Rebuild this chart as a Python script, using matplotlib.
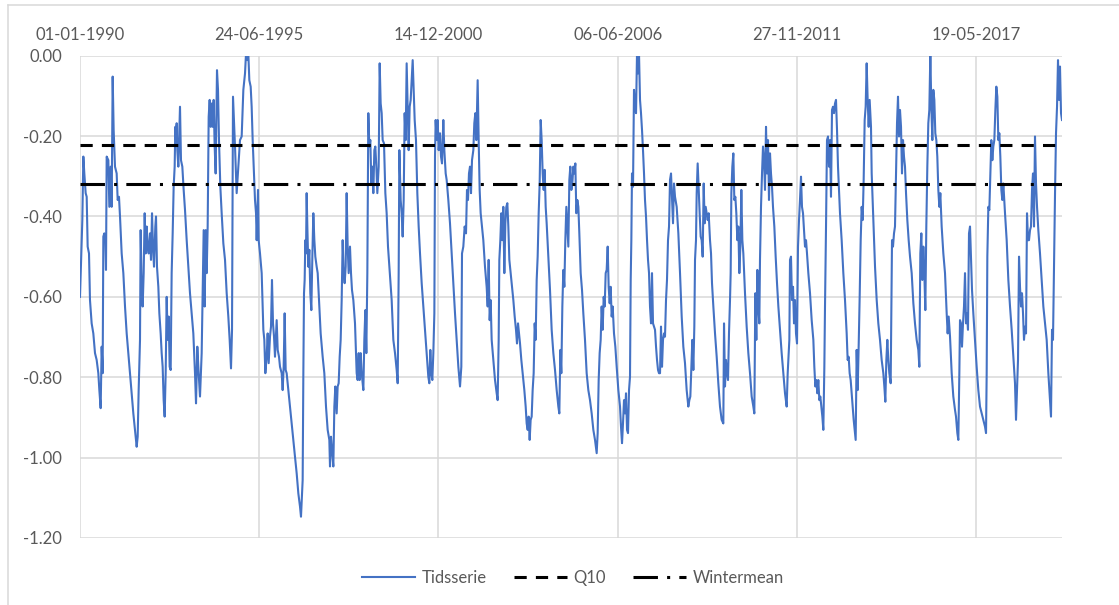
import numpy as np
import pandas as pd
import matplotlib
matplotlib.use("Agg")
import matplotlib.pyplot as plt
from matplotlib.lines import Line2D

plt.rcParams['font.family'] = ['Lato', 'DejaVu Sans']

# ---------------- data ----------------
start_date = "1990-01-01"

# time in years since 01-01-1990, and groundwater level
years_1990 = [0.000, 0.071, 0.102, 0.132, 0.173, 0.204, 0.234, 0.275, 0.305, 0.356,
              0.407, 0.458, 0.509, 0.560, 0.591, 0.631, 0.662, 0.692, 0.713, 0.743,
              0.774, 0.794, 0.815, 0.866, 0.896, 0.937, 0.967, 0.998, 1.028, 1.069,
              1.120, 1.151, 1.191, 1.222, 1.273, 1.324, 1.375, 1.426, 1.477, 1.527,
              1.578, 1.629, 1.680, 1.731, 1.762, 1.792, 1.833, 1.853, 1.884, 1.914,
              1.945, 1.976, 2.006, 2.037, 2.067, 2.098, 2.138, 2.169, 2.200, 2.230,
              2.261, 2.301, 2.322, 2.352, 2.393, 2.424, 2.464, 2.495, 2.525, 2.556,
              2.586, 2.617, 2.648, 2.678, 2.709, 2.739, 2.770, 2.800, 2.831, 2.861,
              2.892, 2.912, 2.933, 2.953, 2.973, 3.004, 3.055, 3.085, 3.126, 3.167,
              3.208, 3.259, 3.309, 3.360, 3.411, 3.462, 3.513, 3.544, 3.584, 3.625,
              3.666, 3.717, 3.747, 3.778, 3.808, 3.839, 3.870, 3.900, 3.931, 3.961,
              3.992, 4.022, 4.053, 4.083, 4.114, 4.144, 4.185, 4.216, 4.246, 4.287,
              4.328, 4.379, 4.430, 4.481, 4.531, 4.572, 4.613, 4.644, 4.674]
level_1990 = [-0.600, -0.409, -0.251, -0.293, -0.342, -0.351, -0.475, -0.492, -0.608, -0.666,
              -0.691, -0.740, -0.757, -0.790, -0.832, -0.877, -0.724, -0.790, -0.450, -0.442,
              -0.459, -0.533, -0.251, -0.260, -0.376, -0.276, -0.376, -0.052, -0.185, -0.276,
              -0.293, -0.359, -0.351, -0.400, -0.492, -0.541, -0.624, -0.691, -0.740, -0.790,
              -0.840, -0.890, -0.931, -0.973, -0.948, -0.832, -0.707, -0.434, -0.575, -0.624,
              -0.541, -0.392, -0.492, -0.425, -0.475, -0.492, -0.442, -0.508, -0.392, -0.475,
              -0.525, -0.425, -0.400, -0.525, -0.575, -0.641, -0.691, -0.740, -0.774, -0.857,
              -0.898, -0.790, -0.600, -0.707, -0.649, -0.774, -0.782, -0.541, -0.442, -0.326,
              -0.276, -0.177, -0.210, -0.168, -0.235, -0.276, -0.127, -0.260, -0.276, -0.334,
              -0.384, -0.459, -0.525, -0.591, -0.641, -0.691, -0.790, -0.865, -0.724, -0.790,
              -0.848, -0.740, -0.591, -0.434, -0.624, -0.434, -0.541, -0.425, -0.152, -0.110,
              -0.177, -0.119, -0.177, -0.110, -0.226, -0.293, -0.036, -0.085, -0.210, -0.326,
              -0.392, -0.467, -0.508, -0.591, -0.649, -0.707, -0.778, -0.682, -0.102]

years_1995 = [4.735, 4.786, 4.837, 4.888, 4.939, 4.990, 5.041, 5.071, 5.112, 5.142,
              5.173, 5.214, 5.244, 5.275, 5.316, 5.346, 5.377, 5.397, 5.438, 5.458,
              5.499, 5.550, 5.601, 5.631, 5.662, 5.702, 5.733, 5.764, 5.804, 5.835,
              5.865, 5.896, 5.927, 5.957, 6.008, 6.039, 6.079, 6.110, 6.161, 6.191,
              6.222, 6.252, 6.283, 6.313, 6.364, 6.415, 6.466, 6.517, 6.568, 6.619,
              6.670, 6.721, 6.751, 6.782, 6.802, 6.823, 6.843, 6.863, 6.884, 6.904,
              6.924, 6.945, 6.975, 7.006, 7.036, 7.067, 7.098, 7.128, 7.159, 7.189,
              7.230, 7.261, 7.301, 7.352, 7.413, 7.464, 7.515, 7.566, 7.617, 7.637,
              7.668, 7.698, 7.739, 7.770, 7.800, 7.841, 7.871, 7.902, 7.933, 7.963,
              7.994, 8.024, 8.055, 8.085, 8.116, 8.146, 8.177, 8.207, 8.248, 8.279,
              8.309, 8.350, 8.401, 8.452, 8.482, 8.513, 8.543, 8.574, 8.605, 8.656,
              8.686, 8.717, 8.747, 8.778, 8.808, 8.839, 8.869, 8.900, 8.930, 8.961,
              8.992, 9.022, 9.053, 9.083, 9.124, 9.155, 9.185, 9.216, 9.246, 9.287,
              9.328, 9.368, 9.409, 9.450]
level_1995 = [-0.226, -0.342, -0.276, -0.210, -0.201, -0.085, -0.044, 0.005, -0.011, 0.005,
              -0.061, -0.077, -0.127, -0.210, -0.293, -0.359, -0.392, -0.459, -0.334, -0.459,
              -0.492, -0.541, -0.682, -0.707, -0.790, -0.749, -0.691, -0.765, -0.699, -0.674,
              -0.558, -0.666, -0.699, -0.749, -0.658, -0.732, -0.749, -0.774, -0.790, -0.832,
              -0.774, -0.641, -0.782, -0.790, -0.832, -0.873, -0.915, -0.956, -0.998, -1.039,
              -1.089, -1.122, -1.147, -1.089, -1.056, -0.790, -0.591, -0.558, -0.459, -0.492,
              -0.342, -0.425, -0.525, -0.483, -0.591, -0.633, -0.500, -0.392, -0.459, -0.500,
              -0.525, -0.541, -0.608, -0.691, -0.749, -0.790, -0.873, -0.931, -0.956, -1.022,
              -0.948, -0.981, -1.022, -0.873, -0.823, -0.890, -0.823, -0.815, -0.749, -0.707,
              -0.608, -0.459, -0.541, -0.566, -0.525, -0.342, -0.475, -0.541, -0.475, -0.541,
              -0.583, -0.608, -0.666, -0.790, -0.807, -0.740, -0.807, -0.740, -0.790, -0.832,
              -0.707, -0.633, -0.740, -0.541, -0.143, -0.226, -0.210, -0.318, -0.276, -0.342,
              -0.235, -0.226, -0.276, -0.342, -0.276, -0.019, -0.119, -0.143, -0.210, -0.218,
              -0.342, -0.392, -0.475, -0.525]

years_2000 = [9.521, 9.572, 9.623, 9.674, 9.705, 9.735, 9.756, 9.796, 9.827, 9.857,
              9.888, 9.918, 9.949, 9.979, 10.010, 10.040, 10.071, 10.102, 10.132, 10.163,
              10.193, 10.224, 10.264, 10.305, 10.346, 10.387, 10.438, 10.488, 10.539, 10.590,
              10.641, 10.672, 10.702, 10.733, 10.763, 10.794, 10.825, 10.845, 10.865, 10.896,
              10.926, 10.957, 10.998, 11.028, 11.059, 11.099, 11.130, 11.171, 11.201, 11.252,
              11.303, 11.354, 11.405, 11.456, 11.507, 11.558, 11.609, 11.649, 11.670, 11.710,
              11.751, 11.792, 11.822, 11.853, 11.883, 11.914, 11.945, 11.975, 12.016, 12.046,
              12.077, 12.108, 12.148, 12.179, 12.209, 12.240, 12.281, 12.321, 12.372, 12.423,
              12.454, 12.484, 12.515, 12.545, 12.576, 12.627, 12.678, 12.729, 12.759, 12.790,
              12.810, 12.841, 12.871, 12.902, 12.932, 12.963, 12.994, 13.024, 13.055, 13.085,
              13.116, 13.156, 13.197, 13.238, 13.279, 13.319, 13.350, 13.381, 13.411, 13.442,
              13.482, 13.523, 13.574, 13.615, 13.645, 13.676, 13.706, 13.737, 13.767, 13.798,
              13.828, 13.859, 13.890, 13.920, 13.951, 13.981, 14.012, 14.042, 14.073, 14.103,
              14.134, 14.165, 14.195, 14.226, 14.256, 14.307, 14.358]
level_2000 = [-0.608, -0.707, -0.740, -0.782, -0.815, -0.541, -0.235, -0.359, -0.392, -0.450,
              -0.359, -0.143, -0.210, -0.019, -0.127, -0.235, -0.127, -0.110, -0.061, -0.011,
              -0.085, -0.160, -0.210, -0.342, -0.425, -0.492, -0.566, -0.624, -0.682, -0.740,
              -0.799, -0.815, -0.732, -0.790, -0.807, -0.740, -0.641, -0.251, -0.160, -0.210,
              -0.160, -0.235, -0.193, -0.251, -0.268, -0.160, -0.235, -0.293, -0.309, -0.359,
              -0.417, -0.492, -0.566, -0.641, -0.707, -0.774, -0.823, -0.774, -0.492, -0.475,
              -0.425, -0.442, -0.334, -0.359, -0.293, -0.276, -0.342, -0.260, -0.235, -0.168,
              -0.143, -0.210, -0.061, -0.210, -0.334, -0.392, -0.425, -0.459, -0.525, -0.575,
              -0.624, -0.508, -0.658, -0.608, -0.707, -0.757, -0.807, -0.840, -0.857, -0.707,
              -0.508, -0.459, -0.392, -0.459, -0.376, -0.541, -0.417, -0.376, -0.367, -0.425,
              -0.508, -0.541, -0.575, -0.608, -0.649, -0.682, -0.716, -0.666, -0.691, -0.716,
              -0.757, -0.790, -0.832, -0.873, -0.915, -0.931, -0.898, -0.956, -0.906, -0.898,
              -0.832, -0.790, -0.666, -0.707, -0.558, -0.500, -0.392, -0.318, -0.160, -0.210,
              -0.293, -0.334, -0.284, -0.376, -0.417, -0.500, -0.583]

years_2004 = [14.409, 14.460, 14.511, 14.562, 14.613, 14.643, 14.674, 14.704, 14.735, 14.765,
              14.796, 14.826, 14.857, 14.888, 14.918, 14.949, 14.979, 15.010, 15.040, 15.071,
              15.101, 15.132, 15.162, 15.193, 15.224, 15.254, 15.295, 15.336, 15.376, 15.427,
              15.478, 15.529, 15.580, 15.631, 15.682, 15.733, 15.784, 15.814, 15.845, 15.875,
              15.906, 15.936, 15.967, 15.998, 16.028, 16.059, 16.089, 16.120, 16.150, 16.181,
              16.211, 16.242, 16.273, 16.313, 16.354, 16.395, 16.446, 16.497, 16.527, 16.558,
              16.588, 16.619, 16.650, 16.680, 16.711, 16.741, 16.772, 16.802, 16.823, 16.843,
              16.863, 16.894, 16.924, 16.955, 16.986, 17.016, 17.047, 17.077, 17.108, 17.138,
              17.169, 17.199, 17.230, 17.260, 17.291, 17.322, 17.352, 17.383, 17.413, 17.444,
              17.474, 17.505, 17.535, 17.566, 17.597, 17.627, 17.658, 17.688, 17.719, 17.749,
              17.780, 17.810, 17.841, 17.871, 17.902, 17.932, 17.963, 17.994, 18.024, 18.055,
              18.085, 18.116, 18.146, 18.177, 18.228, 18.279, 18.330, 18.381, 18.431, 18.482,
              18.533, 18.584, 18.615, 18.645, 18.676, 18.706, 18.737, 18.767, 18.788, 18.818,
              18.839, 18.869, 18.900, 18.930, 18.961, 18.991, 19.022, 19.053, 19.083, 19.114,
              19.144, 19.175, 19.205, 19.246]
level_2004 = [-0.682, -0.740, -0.782, -0.832, -0.873, -0.890, -0.732, -0.790, -0.624, -0.533,
              -0.575, -0.459, -0.376, -0.425, -0.475, -0.309, -0.276, -0.334, -0.318, -0.276,
              -0.293, -0.268, -0.392, -0.359, -0.376, -0.442, -0.541, -0.583, -0.641, -0.707,
              -0.790, -0.832, -0.857, -0.890, -0.931, -0.956, -0.989, -0.939, -0.807, -0.740,
              -0.707, -0.624, -0.682, -0.600, -0.624, -0.541, -0.533, -0.475, -0.575, -0.616,
              -0.575, -0.649, -0.624, -0.691, -0.724, -0.774, -0.832, -0.873, -0.923, -0.964,
              -0.915, -0.857, -0.890, -0.840, -0.931, -0.939, -0.832, -0.799, -0.558, -0.459,
              -0.293, -0.326, -0.085, -0.127, -0.143, 0.005, -0.044, 0.005, -0.110, -0.143,
              -0.185, -0.235, -0.293, -0.359, -0.400, -0.459, -0.508, -0.541, -0.624, -0.666,
              -0.541, -0.666, -0.674, -0.682, -0.724, -0.757, -0.782, -0.790, -0.790, -0.674,
              -0.774, -0.707, -0.691, -0.699, -0.608, -0.558, -0.459, -0.425, -0.309, -0.293,
              -0.351, -0.417, -0.318, -0.351, -0.376, -0.442, -0.541, -0.649, -0.724, -0.765,
              -0.832, -0.873, -0.857, -0.848, -0.774, -0.707, -0.782, -0.674, -0.508, -0.459,
              -0.342, -0.268, -0.334, -0.392, -0.450, -0.459, -0.500, -0.318, -0.417, -0.376,
              -0.392, -0.409, -0.392, -0.459]

years_2009 = [19.277, 19.307, 19.348, 19.399, 19.450, 19.500, 19.551, 19.602, 19.653, 19.674,
              19.704, 19.735, 19.765, 19.796, 19.826, 19.857, 19.877, 19.898, 19.928, 19.959,
              19.989, 20.020, 20.050, 20.081, 20.111, 20.142, 20.173, 20.203, 20.234, 20.264,
              20.315, 20.366, 20.417, 20.468, 20.519, 20.570, 20.600, 20.631, 20.661, 20.692,
              20.722, 20.753, 20.773, 20.804, 20.835, 20.865, 20.896, 20.926, 20.957, 20.987,
              21.018, 21.048, 21.079, 21.109, 21.140, 21.170, 21.211, 21.252, 21.293, 21.334,
              21.384, 21.435, 21.486, 21.537, 21.588, 21.619, 21.649, 21.670, 21.690, 21.720,
              21.751, 21.782, 21.812, 21.843, 21.873, 21.904, 21.934, 21.965, 21.995, 22.026,
              22.056, 22.087, 22.118, 22.148, 22.179, 22.209, 22.250, 22.301, 22.352, 22.403,
              22.433, 22.464, 22.494, 22.525, 22.555, 22.586, 22.616, 22.647, 22.678, 22.708,
              22.739, 22.759, 22.790, 22.820, 22.851, 22.881, 22.912, 22.942, 22.973, 23.003,
              23.034, 23.064, 23.095, 23.126, 23.156, 23.187, 23.217, 23.268, 23.319, 23.370,
              23.421, 23.451, 23.482, 23.512, 23.543, 23.574, 23.604, 23.635, 23.665, 23.696,
              23.726, 23.757, 23.787, 23.818, 23.849, 23.879, 23.910, 23.940, 23.971, 24.001,
              24.032, 24.062, 24.093, 24.123]
level_2009 = [-0.492, -0.566, -0.624, -0.691, -0.749, -0.815, -0.873, -0.906, -0.915, -0.666,
              -0.823, -0.757, -0.790, -0.807, -0.691, -0.608, -0.541, -0.342, -0.276, -0.243,
              -0.359, -0.351, -0.392, -0.459, -0.425, -0.541, -0.475, -0.334, -0.459, -0.492,
              -0.591, -0.674, -0.740, -0.790, -0.848, -0.873, -0.890, -0.591, -0.707, -0.533,
              -0.624, -0.666, -0.508, -0.376, -0.293, -0.226, -0.260, -0.334, -0.177, -0.293,
              -0.210, -0.359, -0.243, -0.293, -0.326, -0.376, -0.425, -0.500, -0.566, -0.624,
              -0.682, -0.740, -0.790, -0.840, -0.873, -0.790, -0.740, -0.707, -0.508, -0.500,
              -0.608, -0.575, -0.666, -0.608, -0.691, -0.716, -0.475, -0.409, -0.359, -0.301,
              -0.376, -0.392, -0.434, -0.475, -0.459, -0.492, -0.541, -0.591, -0.658, -0.707,
              -0.774, -0.823, -0.807, -0.840, -0.807, -0.857, -0.848, -0.873, -0.898, -0.931,
              -0.774, -0.624, -0.425, -0.210, -0.201, -0.276, -0.210, -0.351, -0.135, -0.127,
              -0.143, -0.119, -0.110, -0.185, -0.276, -0.334, -0.392, -0.459, -0.541, -0.608,
              -0.691, -0.757, -0.749, -0.790, -0.807, -0.840, -0.873, -0.906, -0.931, -0.956,
              -0.732, -0.832, -0.724, -0.600, -0.459, -0.376, -0.409, -0.309, -0.160, -0.127,
              -0.019, -0.110, -0.177, -0.110]

years_2014 = [24.164, 24.185, 24.236, 24.287, 24.338, 24.388, 24.439, 24.490, 24.541, 24.572,
              24.602, 24.633, 24.663, 24.694, 24.724, 24.765, 24.786, 24.806, 24.836, 24.867,
              24.897, 24.928, 24.959, 24.989, 25.020, 25.050, 25.081, 25.111, 25.142, 25.172,
              25.203, 25.234, 25.274, 25.315, 25.356, 25.407, 25.458, 25.508, 25.559, 25.610,
              25.641, 25.671, 25.702, 25.732, 25.763, 25.793, 25.824, 25.854, 25.885, 25.915,
              25.946, 25.977, 26.007, 26.038, 26.068, 26.099, 26.129, 26.160, 26.190, 26.221,
              26.252, 26.282, 26.323, 26.374, 26.425, 26.476, 26.506, 26.537, 26.578, 26.629,
              26.679, 26.730, 26.761, 26.802, 26.832, 26.863, 26.883, 26.914, 26.944, 26.975,
              27.005, 27.036, 27.066, 27.097, 27.127, 27.158, 27.189, 27.219, 27.250, 27.290,
              27.341, 27.392, 27.443, 27.494, 27.545, 27.596, 27.647, 27.678, 27.698, 27.718,
              27.749, 27.779, 27.810, 27.840, 27.871, 27.901, 27.932, 27.963, 27.993, 28.024,
              28.054, 28.085, 28.115, 28.146, 28.176, 28.207, 28.258, 28.309, 28.360, 28.411,
              28.462, 28.513, 28.563, 28.594, 28.625, 28.655, 28.686, 28.716, 28.747, 28.777,
              28.808, 28.838, 28.869, 28.900, 28.930, 28.961, 28.991, 29.022, 29.052, 29.083,
              29.113, 29.144, 29.174, 29.205, 29.236, 29.276, 29.327, 29.378, 29.429, 29.480,
              29.531, 29.582, 29.633, 29.663, 29.694, 29.724, 29.755, 29.786, 29.816, 29.847,
              29.877, 29.908, 29.938, 29.969, 29.999]
level_2014 = [-0.177, -0.293, -0.409, -0.525, -0.608, -0.666, -0.707, -0.757, -0.790, -0.823,
              -0.861, -0.757, -0.707, -0.757, -0.790, -0.815, -0.641, -0.459, -0.475, -0.442,
              -0.425, -0.293, -0.168, -0.102, -0.201, -0.135, -0.177, -0.293, -0.210, -0.251,
              -0.276, -0.342, -0.409, -0.459, -0.500, -0.541, -0.616, -0.666, -0.707, -0.732,
              -0.774, -0.492, -0.442, -0.558, -0.475, -0.541, -0.633, -0.425, -0.276, -0.168,
              -0.135, 0.005, -0.127, -0.210, -0.085, -0.110, -0.193, -0.210, -0.251, -0.334,
              -0.376, -0.342, -0.425, -0.492, -0.541, -0.641, -0.691, -0.649, -0.699, -0.790,
              -0.848, -0.881, -0.898, -0.939, -0.956, -0.790, -0.658, -0.666, -0.724, -0.666,
              -0.624, -0.541, -0.666, -0.641, -0.682, -0.442, -0.425, -0.500, -0.583, -0.641,
              -0.707, -0.774, -0.832, -0.873, -0.890, -0.906, -0.923, -0.939, -0.790, -0.500,
              -0.376, -0.384, -0.293, -0.210, -0.260, -0.226, -0.210, -0.135, -0.077, -0.102,
              -0.210, -0.193, -0.251, -0.334, -0.359, -0.318, -0.392, -0.459, -0.558, -0.624,
              -0.682, -0.749, -0.815, -0.906, -0.832, -0.757, -0.500, -0.575, -0.624, -0.591,
              -0.641, -0.707, -0.674, -0.691, -0.392, -0.459, -0.459, -0.434, -0.425, -0.334,
              -0.293, -0.425, -0.201, -0.318, -0.376, -0.434, -0.492, -0.558, -0.624, -0.666,
              -0.707, -0.790, -0.857, -0.898, -0.682, -0.707, -0.525, -0.342, -0.193, -0.127,
              -0.011, -0.110, -0.027, -0.143, -0.160]

q10_level = -0.222
wintermean_level = -0.320

x_tick_labels = ["01-01-1990", "24-06-1995", "14-12-2000",
                 "06-06-2006", "27-11-2011", "19-05-2017"]
y_ticks = [0.0, -0.2, -0.4, -0.6, -0.8, -1.0, -1.2]
y_tick_labels = ["0.00", "-0.20", "-0.40", "-0.60", "-0.80", "-1.00", "-1.20"]
series_names = ["Tidsserie", "Q10", "Wintermean"]

# ---------------- assemble ----------------
years = np.concatenate([years_1990, years_1995, years_2000,
                        years_2004, years_2009, years_2014])
level = np.concatenate([level_1990, level_1995, level_2000,
                        level_2004, level_2009, level_2014])
assert len(years) == len(level)
dates = pd.Timestamp(start_date) + pd.to_timedelta(years * 365.25, unit="D")
tick_dates = pd.to_datetime(x_tick_labels, format="%d-%m-%Y")

W, H = 1119, 605
fig = plt.figure(figsize=(W / 100, H / 100), dpi=100)
left, right, top, bottom = 80, 1062, 55.7, 538
ax = fig.add_axes([left / W, 1 - bottom / H, (right - left) / W, (bottom - top) / H])

blue = "#4472C4"
grid_c = "#D9D9D9"
text_c = "#595959"

l1, = ax.plot(dates, level, color=blue, lw=1.5, zorder=3, solid_joinstyle="round")
l2 = ax.axhline(q10_level, color="black", lw=2.2, ls=(0, (4, 3)), zorder=4)
l3 = ax.axhline(wintermean_level, color="black", lw=2.2, ls=(0, (8, 3, 1, 3)), zorder=4)

ax.set_xlim(dates[0], dates[-1])
ax.set_ylim(-1.2, 0.0)
ax.set_xticks(tick_dates)
ax.set_xticklabels(x_tick_labels)
ax.set_yticks(y_ticks)
ax.set_yticklabels(y_tick_labels)

ax.grid(True, color=grid_c, lw=1.1, zorder=0)
ax.set_axisbelow(True)
for s in ax.spines.values():
    s.set_visible(False)

ax.tick_params(axis="x", which="both", length=0, top=False, bottom=False,
               labeltop=True, labelbottom=False, pad=9, labelsize=12,
               labelcolor=text_c)
ax.tick_params(axis="y", which="both", length=0, left=False, pad=13,
               labelsize=12, labelcolor=text_c)

# chart-area border (visible on top and left)
fig.add_artist(Line2D([7.5 / W, 7.5 / W], [0, 1 - 5.4 / H], transform=fig.transFigure,
                      color=grid_c, lw=1.1))
fig.add_artist(Line2D([7.5 / W, 1], [1 - 5.4 / H, 1 - 5.4 / H], transform=fig.transFigure,
                      color=grid_c, lw=1.1))

fig.legend([l1, l2, l3], series_names, loc="center",
           bbox_to_anchor=(573 / W, 1 - 578 / H), ncol=3, frameon=False,
           handlelength=3.2, handletextpad=0.4, columnspacing=1.6,
           fontsize=12, labelcolor=text_c)

fig.savefig("out.png", dpi=100)
